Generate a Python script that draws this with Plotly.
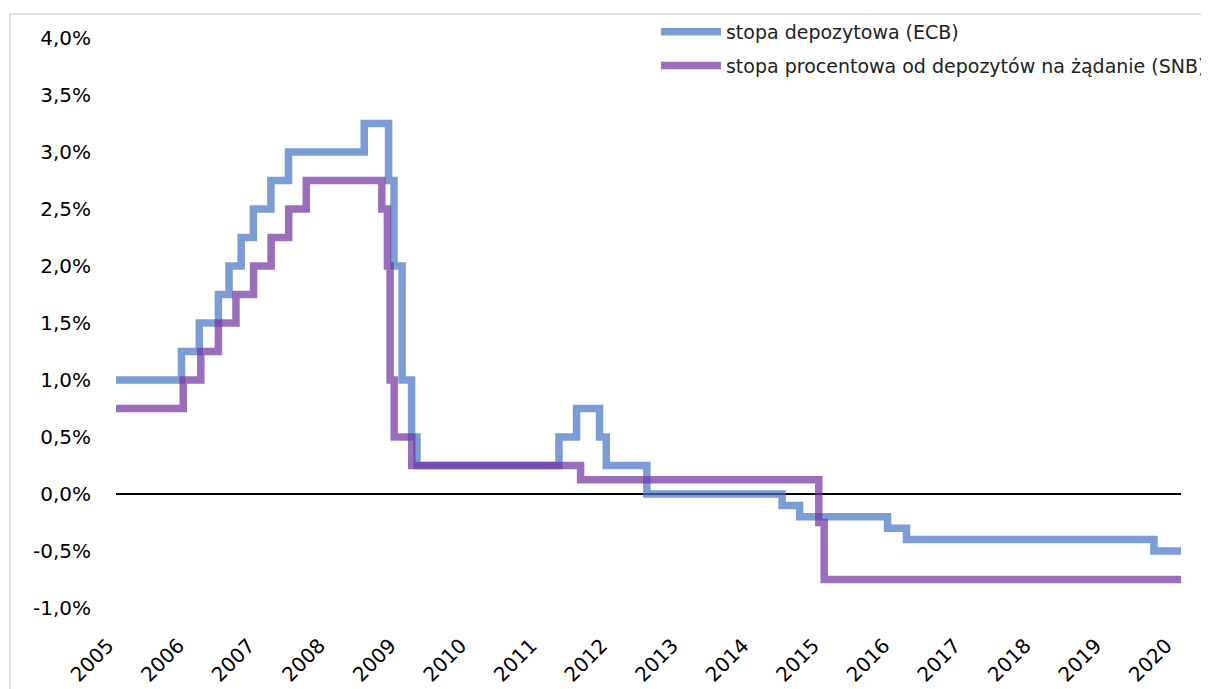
import plotly.graph_objects as go

# ---- data (percent); each date is the day a new rate starts, drawn as steps ----
ecb_dates = ["2005-01-01", "2005-12-06", "2006-03-08", "2006-06-15", "2006-08-09", "2006-10-11",
             "2006-12-13", "2007-03-14", "2007-06-13", "2008-07-09", "2008-11-12", "2008-12-10",
             "2009-01-21", "2009-03-11", "2009-04-08", "2011-04-13", "2011-07-13", "2011-11-09",
             "2011-12-14", "2012-07-11", "2014-06-11", "2014-09-10", "2015-12-09", "2016-03-16",
             "2019-09-18", "2020-02-05"]
ecb_values = [1.00, 1.25, 1.50, 1.75, 2.00, 2.25,
              2.50, 2.75, 3.00, 3.25, 2.75, 2.00,
              1.00, 0.50, 0.25, 0.50, 0.75, 0.50,
              0.25, 0.00, -0.10, -0.20, -0.30, -0.40,
              -0.50, -0.50]

snb_dates = ["2005-01-01", "2005-12-15", "2006-03-16", "2006-06-15", "2006-09-14", "2006-12-14",
             "2007-03-15", "2007-06-14", "2007-09-13", "2008-10-08", "2008-11-06", "2008-11-20",
             "2008-12-11", "2009-03-12", "2011-08-03", "2014-12-18", "2015-01-15", "2020-02-05"]
snb_values = [0.75, 1.00, 1.25, 1.50, 1.75, 2.00,
              2.25, 2.50, 2.75, 2.50, 2.00, 1.00,
              0.50, 0.25, 0.125, -0.25, -0.75, -0.75]

series_names = ["stopa depozytowa (ECB)", "stopa procentowa od depozytów na żądanie (SNB)"]

y_tickvals = [-1.0, -0.5, 0.0, 0.5, 1.0, 1.5, 2.0, 2.5, 3.0, 3.5, 4.0]
y_ticktext = ["-1,0%", "-0,5%", "0,0%", "0,5%", "1,0%", "1,5%", "2,0%", "2,5%", "3,0%", "3,5%", "4,0%"]

years = list(range(2005, 2021))
x_tickvals = [f"{y}-01-01" for y in years]
x_ticktext = [str(y) for y in years]

FONT = "DejaVu Sans"
BLUE = "rgba(68,114,196,0.7)"
PURPLE = "rgba(112,48,160,0.7)"

fig = go.Figure()
fig.add_trace(go.Scatter(x=ecb_dates, y=ecb_values, mode="lines", name=series_names[0],
                         line=dict(color=BLUE, width=7.5, shape="hv"), legendgroup="a"))
fig.add_trace(go.Scatter(x=snb_dates, y=snb_values, mode="lines", name=series_names[1],
                         line=dict(color=PURPLE, width=7.5, shape="hv"), legendgroup="b"))

fig.update_layout(
    width=1209, height=689,
    margin=dict(l=108, r=36, t=30, b=89, autoexpand=False),
    paper_bgcolor="white", plot_bgcolor="white",
    font=dict(family=FONT, size=20, color="black"),
    showlegend=True,
    legend=dict(x=0.507, y=1.044, xanchor="left", yanchor="top",
                bgcolor="rgba(0,0,0,0)", font=dict(family=FONT, size=19, color="#222"),
                itemwidth=60, tracegroupgap=6, traceorder="grouped"),
    xaxis=dict(type="date", range=["2005-01-01", "2020-02-05"],
               tickmode="array", tickvals=x_tickvals, ticktext=x_ticktext,
               tickangle=-45, showgrid=False, showline=False, zeroline=False,
               ticks="", ticklabelstandoff=21, ticklabelshift=-8,
               tickfont=dict(family=FONT, size=20, color="black")),
    yaxis=dict(range=[-1.0, 4.0], tickmode="array", tickvals=y_tickvals, ticktext=y_ticktext,
               showgrid=False, showline=False, zeroline=True, zerolinecolor="black",
               zerolinewidth=2, ticks="", ticklabelstandoff=24,
               tickfont=dict(family=FONT, size=20, color="black")),
    shapes=[dict(type="rect", xref="paper", yref="paper",
                 x0=-0.0996, x1=1.2, y0=-0.3, y1=1.0421,
                 line=dict(color="#d9d9d9", width=1.5), fillcolor="rgba(0,0,0,0)", layer="below")],
)

fig.write_html("out.html")
